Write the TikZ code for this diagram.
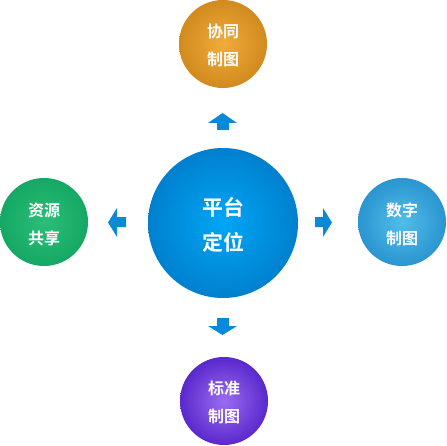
\documentclass[tikz,border=0pt]{standalone}
\usepackage{fontspec}
\newfontfamily\cjk{Noto Sans CJK SC Bold}
\begin{document}
\begin{tikzpicture}[x=1pt,y=-1pt,
  txt/.style={text=white,align=center,font=\cjk},
  bigtxt/.style={txt,font=\cjk\fontsize{21}{35}\selectfont},
  smalltxt/.style={txt,font=\cjk\fontsize{16}{28}\selectfont},
  arr/.style={fill=arrowblue,draw=none}]
\definecolor{arrowblue}{HTML}{0A8AD6}
\definecolor{cblueIn}{HTML}{00A6F5}
\definecolor{cblueOut}{HTML}{0080CE}
\definecolor{orIn}{HTML}{F0AC3A}
\definecolor{orOut}{HTML}{D28A1E}
\definecolor{grIn}{HTML}{2ABF78}
\definecolor{grOut}{HTML}{14A864}
\definecolor{lbIn}{HTML}{50BDEB}
\definecolor{lbOut}{HTML}{2A95CF}
\definecolor{puIn}{HTML}{9A6CF2}
\definecolor{puOut}{HTML}{5A28CC}
\useasboundingbox (0,0) rectangle (446,446);
\fill[white] (0,0) rectangle (446,446);
% circles
\shade[inner color=cblueIn,outer color=cblueOut] (223,223) circle (75);
\shade[inner color=orIn,outer color=orOut] (223,44) circle (44);
\shade[inner color=grIn,outer color=grOut] (44,222) circle (44);
\shade[inner color=lbIn,outer color=lbOut] (402,222) circle (44);
\shade[inner color=puIn,outer color=puOut] (224,401) circle (44);
% text nodes
\node[bigtxt] (c) at (223,224.5) {平台\\定位};
\node[smalltxt] (t) at (223,45) {协同\\制图};
\node[smalltxt] (l) at (44,224) {资源\\共享};
\node[smalltxt] (r) at (402,224) {数字\\制图};
\node[smalltxt] (b) at (224,402) {标准\\制图};
% arrows
\fill[arr] (208,123) -- (222.5,113) -- (237,123) -- (229,123) -- (229,130) -- (217,130) -- (217,123) -- cycle;
\fill[arr] (208,326) -- (222.5,335) -- (237,326) -- (229,326) -- (229,318) -- (217,318) -- (217,326) -- cycle;
\fill[arr] (117,208) -- (108,222.5) -- (117,237) -- (117,227) -- (126,227) -- (126,217) -- (117,217) -- cycle;
\fill[arr] (323,208) -- (332,222.5) -- (323,237) -- (323,227) -- (315,227) -- (315,217) -- (323,217) -- cycle;
\end{tikzpicture}
\end{document}
